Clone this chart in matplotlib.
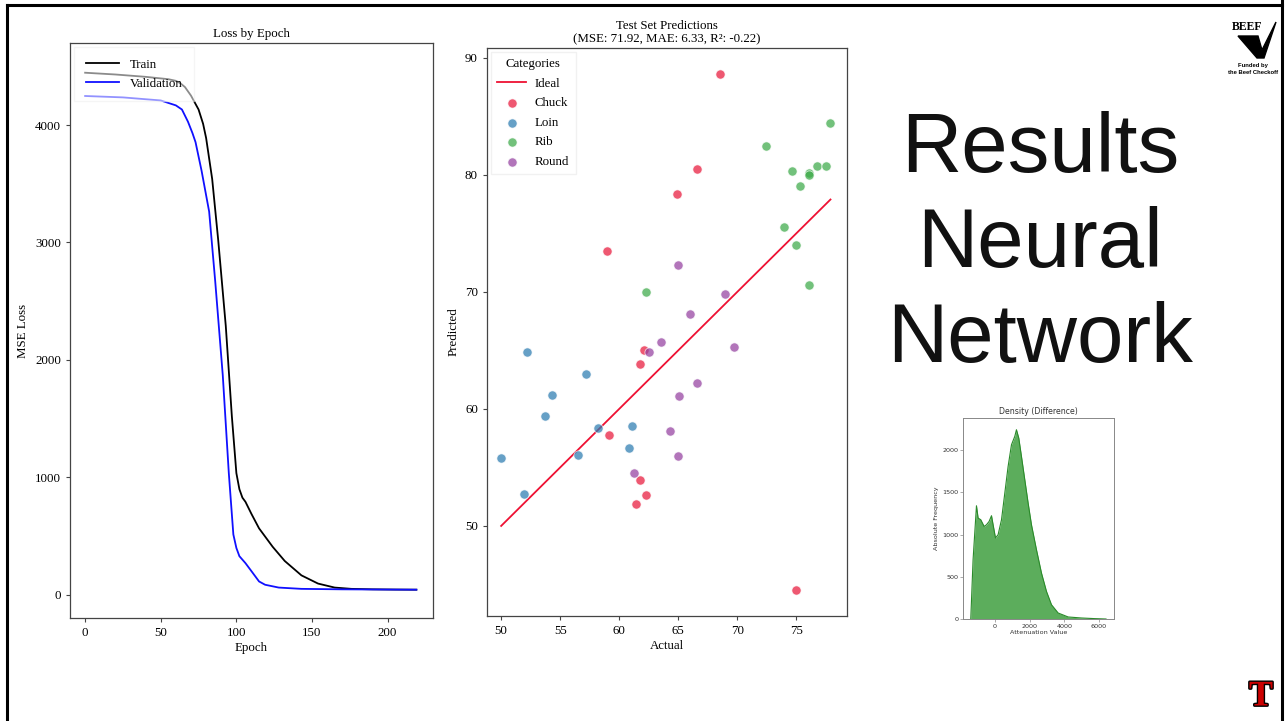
import matplotlib
matplotlib.use("Agg")
import matplotlib.pyplot as plt
import matplotlib.patheffects as pe
from matplotlib.lines import Line2D
from matplotlib.patches import Polygon

# ---------------- data ----------------
train_epochs = [0, 20, 40, 55, 60, 63, 66, 70, 75, 78, 80, 84, 88, 93, 97, 100, 102, 104, 106, 110, 115, 124, 132, 143, 154, 165, 176, 190, 205, 219]
train_loss = [4445, 4430, 4410, 4390, 4376, 4355, 4323, 4250, 4132, 4010, 3889, 3541, 3019, 2289, 1523, 1037, 900, 828, 793, 689, 567, 410, 289, 167, 97, 63, 52, 48, 46, 45]

val_epochs = [0, 25, 50, 60, 64, 68, 71, 73, 77, 82, 86, 91, 95, 98, 100, 102, 106, 110, 115, 119, 128, 143, 170, 219]
val_loss = [4247, 4235, 4209, 4167, 4132, 4028, 3930, 3854, 3610, 3263, 2671, 1871, 1037, 515, 400, 330, 271, 202, 115, 87, 63, 52, 48, 45]

chuck_actual = [68.5, 66.6, 64.9, 59.0, 62.1, 61.75, 59.1, 61.75, 62.3, 61.4, 75.0]
chuck_pred = [88.6, 80.5, 78.4, 73.5, 65.0, 63.8, 57.8, 53.9, 52.6, 51.9, 44.5]
loin_actual = [52.2, 57.2, 54.3, 53.75, 58.2, 61.1, 60.8, 50.0, 56.5, 51.9]
loin_pred = [64.9, 63.0, 61.2, 59.4, 58.4, 58.55, 56.7, 55.8, 56.1, 52.7]
rib_actual = [77.9, 72.4, 74.6, 76.05, 76.1, 76.75, 77.5, 75.35, 74.0, 75.0, 62.3, 76.05]
rib_pred = [84.45, 82.45, 80.3, 80.15, 80.0, 80.75, 80.75, 79.05, 75.55, 74.05, 70.0, 70.55]
round_actual = [65.0, 69.0, 66.0, 63.5, 69.7, 62.5, 66.6, 65.1, 64.3, 65.0, 61.25]
round_pred = [72.3, 69.8, 68.1, 65.75, 65.3, 64.85, 62.25, 61.1, 58.15, 56.0, 54.55]
ideal_range = [50.0, 77.9]

density_x = [-1383, -1250, -1055, -960, -807, -615, -478, -328, -190, -98, 40, 190, 386, 576, 766, 960,
             1150, 1246, 1380, 1534, 1726, 1918, 2110, 2398, 2686, 2974, 3262, 3645, 4222, 4990, 5700, 6400]
density_y = [0, 703, 1342, 1196, 1176, 1097, 1117, 1156, 1224, 1117, 960, 999, 1176, 1493, 1808, 2065,
             2164, 2243, 2144, 1927, 1650, 1374, 1117, 821, 545, 327, 169, 71, 24, 12, 5, 0]

loss_xticks = [0, 50, 100, 150, 200]
loss_yticks = [0, 1000, 2000, 3000, 4000]
pred_xticks = [50, 55, 60, 65, 70, 75]
pred_yticks = [50, 60, 70, 80, 90]
dens_xticks = [0, 2000, 4000, 6000]
dens_yticks = [0, 500, 1000, 1500, 2000]

# ---------------- figure ----------------
W, H = 1286, 721
fig = plt.figure(figsize=(W / 100, H / 100), dpi=100)
fig.patch.set_facecolor("white")

def ax_px(x0, y0, x1, y1):
    return fig.add_axes([x0 / W, 1 - y1 / H, (x1 - x0) / W, (y1 - y0) / H])

SERIF = ["Liberation Serif", "DejaVu Serif"]
FS = 9.3
spine_c = "#444444"

def style(ax, fs=FS, family=SERIF):
    for s in ax.spines.values():
        s.set_color(spine_c)
        s.set_linewidth(0.9)
    ax.tick_params(labelsize=fs, length=3, width=0.8, color=spine_c)
    for lab in ax.get_xticklabels() + ax.get_yticklabels():
        lab.set_family(family)

# ---- Loss by Epoch ----
ax1 = ax_px(70, 43, 433, 618)
ax1.plot(train_epochs, train_loss, color="black", lw=1.3, label="Train")
ax1.plot(val_epochs, val_loss, color="#1010ff", lw=1.3, label="Validation")
ax1.set_xlim(-10, 230)
ax1.set_ylim(-196, 4698)
ax1.set_xticks(loss_xticks)
ax1.set_yticks(loss_yticks)
style(ax1)
ax1.set_title("Loss by Epoch", family=SERIF, fontsize=FS, pad=4)
ax1.set_xlabel("Epoch", family=SERIF, fontsize=FS, labelpad=2)
ax1.set_ylabel("MSE Loss", family=SERIF, fontsize=FS, labelpad=4)
leg1 = ax1.legend(loc="upper left", prop={"family": SERIF, "size": FS}, frameon=True,
                  edgecolor="#eeeeee", framealpha=0.55, fancybox=False, borderaxespad=0.3,
                  handlelength=2.6, labelspacing=0.55, borderpad=0.9)

# ---- Test Set Predictions ----
ax2 = ax_px(487, 48, 847, 616)
ax2.plot(ideal_range, ideal_range, color="#ee1133", lw=1.3, label="Ideal", zorder=3)
cat_colors = {"Chuck": "#e8173a", "Loin": "#2b7bb0", "Rib": "#3caa48", "Round": "#9440a0"}
for name, xs, ys in [("Chuck", chuck_actual, chuck_pred), ("Loin", loin_actual, loin_pred),
                     ("Rib", rib_actual, rib_pred), ("Round", round_actual, round_pred)]:
    ax2.scatter(xs, ys, s=44, color=cat_colors[name], alpha=0.72, edgecolors="white",
                linewidths=0.6, label=name, zorder=4)
ax2.set_xlim(48.8, 79.3)
ax2.set_ylim(42.3, 90.85)
ax2.set_xticks(pred_xticks)
ax2.set_yticks(pred_yticks)
style(ax2)
ax2.set_title("Test Set Predictions\n(MSE: 71.92, MAE: 6.33, R²: -0.22)", family=SERIF,
              fontsize=FS, pad=4, linespacing=1.15)
ax2.set_xlabel("Actual", family=SERIF, fontsize=FS, labelpad=2)
ax2.set_ylabel("Predicted", family=SERIF, fontsize=FS, labelpad=4)
leg2 = ax2.legend(loc="upper left", title="Categories", prop={"family": SERIF, "size": FS},
                  title_fontproperties={"family": SERIF, "size": FS}, frameon=True,
                  edgecolor="#eeeeee", framealpha=0.8, fancybox=False, borderaxespad=0.3,
                  handlelength=2.2, labelspacing=0.58, borderpad=0.5, handletextpad=0.7)

# ---- Big heading ----
fig.text(1040 / W, 1 - 245 / H, "Results\nNeural\nNetwork", ha="center", va="center",
         fontsize=60, family=["Liberation Sans", "DejaVu Sans"], color="#111111",
         linespacing=1.28)

# ---- Density (Difference) ----
ax3 = ax_px(963, 418, 1114, 619)
ax3.fill_between(density_x, density_y, color="#3f9f3f", alpha=0.85, lw=0)
ax3.plot(density_x, density_y, color="#2a8a2a", lw=0.8)
ax3.set_xlim(-1830, 6860)
ax3.set_ylim(0, 2382)
ax3.set_xticks(dens_xticks)
ax3.set_yticks(dens_yticks)
for s in ax3.spines.values():
    s.set_color("#888888")
    s.set_linewidth(0.7)
ax3.tick_params(labelsize=4.6, length=2, width=0.5, color="#888888", pad=1.5, labelcolor="#333333")
ax3.set_title("Density (Difference)", fontsize=5.6, pad=3, color="#333333")
ax3.set_xlabel("Attenuation Value", fontsize=4.6, labelpad=1, color="#333333")
ax3.set_ylabel("Absolute Frequency", fontsize=4.6, labelpad=2, color="#333333")

# ---- slide frame ----
fig.add_artist(Line2D([7 / W, 7 / W], [0, 1 - 5 / H], color="black", lw=2.2, transform=fig.transFigure))
fig.add_artist(Line2D([7 / W, 1282 / W], [1 - 5 / H, 1 - 5 / H], color="black", lw=2.2, transform=fig.transFigure))
fig.add_artist(Line2D([1282 / W, 1282 / W], [0, 1], color="black", lw=2.2, transform=fig.transFigure))

# ---- Beef checkoff logo ----
fig.text(1247 / W, 1 - 27 / H, "BEEF", ha="center", va="center", fontsize=8.5,
         family=SERIF, weight="bold", color="black")
fig.add_artist(Polygon([[1238 / W, 1 - 36 / H], [1258 / W, 1 - 36 / H], [1262 / W, 1 - 50 / H],
                        [1276 / W, 1 - 22 / H], [1264 / W, 1 - 58 / H], [1257 / W, 1 - 58 / H]],
                       closed=True, color="black", transform=fig.transFigure))
fig.text(1253 / W, 1 - 65 / H, "Funded by", ha="center", va="center", fontsize=4.2,
         family=["Liberation Sans"], weight="bold", color="black")
fig.text(1253 / W, 1 - 72 / H, "the Beef Checkoff", ha="center", va="center", fontsize=4.2,
         family=["Liberation Sans"], weight="bold", color="black")

# ---- TTU logo ----
fig.text(1261 / W, 1 - 697 / H, "T", ha="center", va="center", fontsize=26,
         family=SERIF, weight="bold", color="#cc0000",
         path_effects=[pe.withStroke(linewidth=2.0, foreground="black")])

fig.savefig("out.png", dpi=100, facecolor="white")
